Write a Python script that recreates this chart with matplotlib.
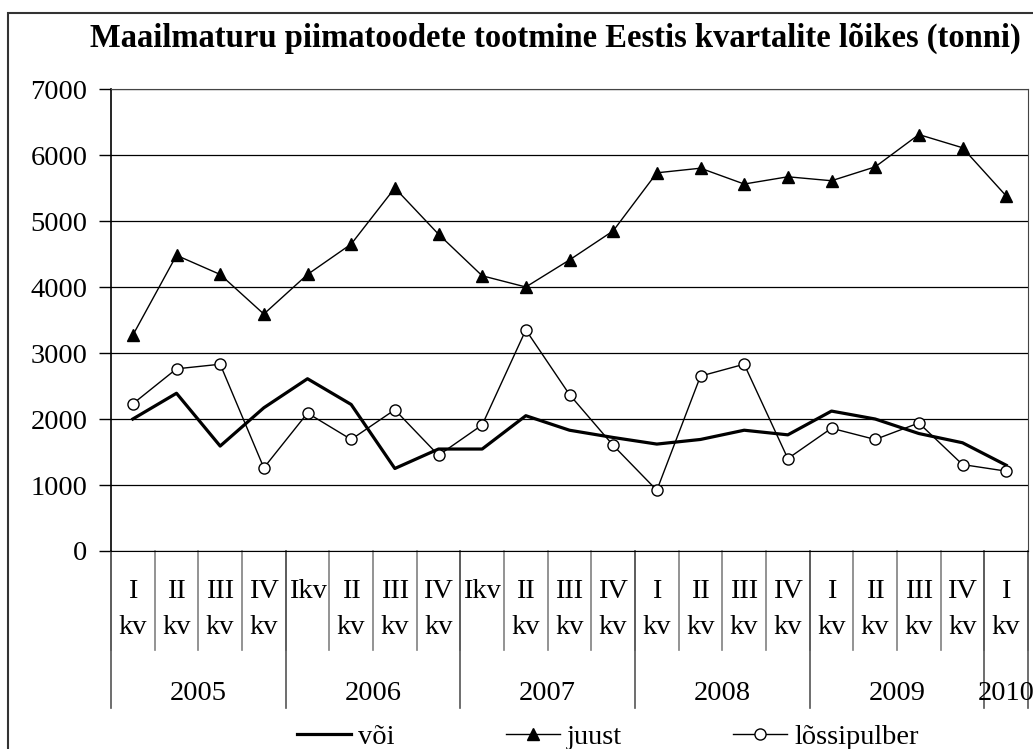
import matplotlib.pyplot as plt
from matplotlib.lines import Line2D
from matplotlib.patches import Rectangle
import matplotlib.transforms as mtransforms

plt.rcParams['font.family'] = ['Liberation Serif', 'DejaVu Serif']

# quarter labels (two lines) and years
q_top = ['I', 'II', 'III', 'IV', 'Ikv', 'II', 'III', 'IV', 'Ikv', 'II', 'III', 'IV',
         'I', 'II', 'III', 'IV', 'I', 'II', 'III', 'IV', 'I']
q_bot = ['kv', 'kv', 'kv', 'kv', '', 'kv', 'kv', 'kv', '', 'kv', 'kv', 'kv',
         'kv', 'kv', 'kv', 'kv', 'kv', 'kv', 'kv', 'kv', 'kv']
years = ['2005', '2006', '2007', '2008', '2009', '2010']
year_len = [4, 4, 4, 4, 4, 1]

voi = [2000, 2390, 1590, 2170, 2610, 2220, 1250, 1545, 1545, 2050, 1830,
       1720, 1620, 1690, 1830, 1760, 2120, 2000, 1780, 1640, 1300]
juust = [3270, 4480, 4190, 3590, 4190, 4650, 5500, 4800, 4170, 4000, 4410,
         4850, 5730, 5800, 5560, 5670, 5610, 5820, 6310, 6110, 5380]
lossipulber = [2230, 2760, 2830, 1260, 2090, 1690, 2140, 1450, 1910, 3350, 2370,
               1600, 920, 2650, 2830, 1400, 1860, 1690, 1940, 1310, 1210]

FS = 20.5
W, H = 1033, 749
fig = plt.figure(figsize=(W / 100, H / 100), dpi=100)
ax = fig.add_axes([111 / W, 1 - 551 / H, (1028 - 111) / W, (551 - 89) / H])

x = list(range(len(voi)))
ax.plot(x, voi, color='black', lw=2.3, label='või', zorder=3)
ax.plot(x, juust, color='black', lw=1.0, marker='^', markersize=9,
        markerfacecolor='black', label='juust', zorder=4)
ax.plot(x, lossipulber, color='black', lw=1.0, marker='o', markersize=8,
        markerfacecolor='white', markeredgewidth=1.0, label='lõssipulber', zorder=4)

ax.set_xlim(-0.5, len(voi) - 0.5)
ax.set_ylim(0, 7000)
ax.set_yticks(range(0, 7001, 1000))
ax.tick_params(axis='y', labelsize=FS, length=9, width=1, pad=8)
ax.set_xticks([])
ax.yaxis.grid(True, color='black', lw=0.9)
ax.set_axisbelow(True)
for s in ['top', 'right']:
    ax.spines[s].set_color('#444444')
ax.spines['left'].set_linewidth(1.2)

ph = 551 - 89
trans = mtransforms.blended_transform_factory(ax.transData, ax.transAxes)

# quarter labels and separators
for i in range(len(q_top)):
    ax.text(i, -41 / ph, q_top[i], ha='center', va='center', fontsize=FS, transform=trans)
    if q_bot[i]:
        ax.text(i, -76 / ph, q_bot[i], ha='center', va='center', fontsize=FS, transform=trans)
for i in range(len(q_top) + 1):
    ax.add_line(Line2D([i - 0.5, i - 0.5], [0, -99 / ph], color='#808080', lw=1.2,
                       transform=trans, clip_on=False))

# year labels and separators
start = 0
bounds = [0]
for y, n in zip(years, year_len):
    ax.text(start + (n - 1) / 2, -142 / ph, y, ha='center', va='center', fontsize=FS,
            transform=trans)
    start += n
    bounds.append(start)
for b in bounds:
    ax.add_line(Line2D([b - 0.5, b - 0.5], [0, -157 / ph], color='#555555', lw=1.2,
                       transform=trans, clip_on=False))

fig.text(555 / W, 1 - 38 / H, 'Maailmaturu piimatoodete tootmine Eestis kvartalite lõikes (tonni)',
         ha='center', va='center', fontsize=23.5, fontweight='bold')

fig.legend(loc='center', bbox_to_anchor=(608 / W, 1 - 737 / H), ncol=3, frameon=False,
           fontsize=FS, handlelength=1.9, columnspacing=3.9, handletextpad=0.25,
           borderpad=0, borderaxespad=0)

fig.patches.append(Rectangle((8 / W, -0.1), 1.2, 1 - 13 / H + 0.1, transform=fig.transFigure,
                             fill=False, edgecolor='#333333', lw=1.5))

fig.savefig('out.png', dpi=100)
